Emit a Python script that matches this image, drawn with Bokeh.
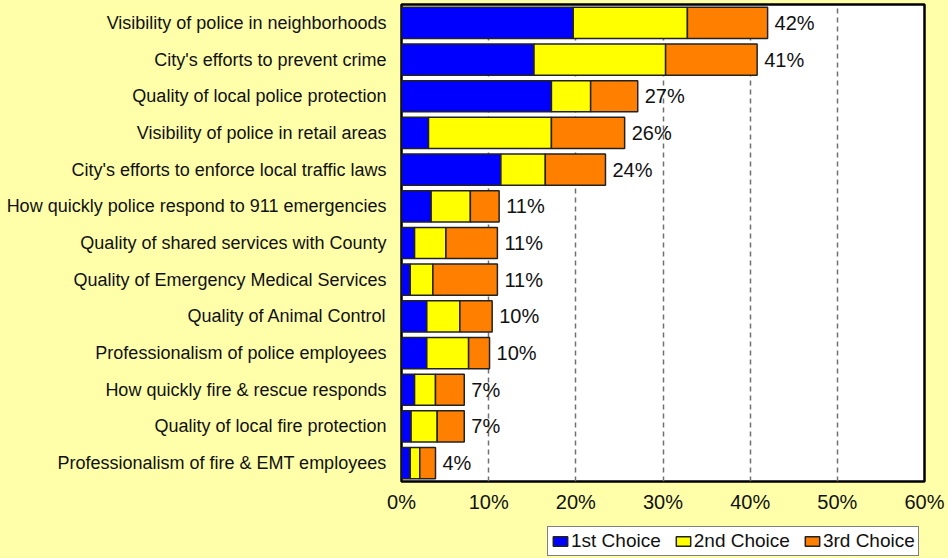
from bokeh.plotting import figure
from bokeh.layouts import column
from bokeh.models import FactorRange, Range1d, ColumnDataSource, Legend, LegendItem, PrintfTickFormatter, FixedTicker
from bokeh.core.properties import value
from bokeh.embed import file_html
from bokeh.resources import INLINE

categories = [
    "Visibility of police in neighborhoods",
    "City's efforts to prevent crime",
    "Quality of local police protection",
    "Visibility of police in retail areas",
    "City's efforts to enforce local traffic laws",
    "How quickly police respond to 911 emergencies",
    "Quality of shared services with County",
    "Quality of Emergency Medical Services",
    "Quality of Animal Control",
    "Professionalism of police employees",
    "How quickly fire & rescue responds",
    "Quality of local fire protection",
    "Professionalism of fire & EMT employees",
]
first_choice = [19.7, 15.2, 17.2, 3.1, 11.4, 3.4, 1.5, 1.0, 2.9, 2.9, 1.5, 1.1, 1.0]
second_choice = [13.1, 15.1, 4.5, 14.1, 5.1, 4.5, 3.6, 2.6, 3.8, 4.8, 2.4, 3.0, 1.1]
third_choice = [9.2, 10.5, 5.4, 8.4, 6.9, 3.3, 5.9, 7.4, 3.7, 2.4, 3.3, 3.1, 1.8]
total_labels = ["42%", "41%", "27%", "26%", "24%", "11%", "11%", "11%", "10%", "10%", "7%", "7%", "4%"]
series_names = ["1st Choice", "2nd Choice", "3rd Choice"]
x_ticks = [0, 10, 20, 30, 40, 50, 60]

FONT = "Liberation Sans"
BG = "#FFFFAA"
TXT = "#111111"
colors = ["#0000FF", "#FFFF00", "#FF8000"]

totals = [a + b + c for a, b, c in zip(first_choice, second_choice, third_choice)]
src = ColumnDataSource(dict(
    cat=categories, s1=first_choice, s2=second_choice, s3=third_choice,
    total=totals, lab=total_labels,
))

p = figure(width=948, height=520, output_backend="svg", toolbar_location=None,
           y_range=FactorRange(factors=list(reversed(categories)), range_padding=0),
           x_range=Range1d(0, 60))
p.background_fill_color = "white"
p.border_fill_color = BG
p.min_border_left = 401
p.min_border_right = 24
p.min_border_top = 4
p.min_border_bottom = 39
p.outline_line_color = "black"
p.outline_line_width = 2.5

p.hbar_stack(["s1", "s2", "s3"], y="cat", height=0.85, source=src,
             color=colors, line_color="#222222", line_width=1.5)

p.text(x="total", y="cat", text="lab", source=src, x_offset=7,
       text_baseline="middle", text_align="left",
       text_font=value(FONT), text_font_size="20px", text_color=TXT)

p.xaxis.ticker = FixedTicker(ticks=x_ticks)
p.xaxis.formatter = PrintfTickFormatter(format="%d%%")
p.xaxis.major_label_text_font = FONT
p.xaxis.major_label_text_font_size = "20px"
p.xaxis.major_label_text_color = TXT
p.xaxis.axis_line_color = None
p.xaxis.major_tick_line_color = None
p.xaxis.minor_tick_line_color = None
p.xaxis.major_tick_out = 0
p.xaxis.major_tick_in = 0
p.xaxis.major_label_standoff = 9

p.yaxis.major_label_text_font = FONT
p.yaxis.major_label_text_font_size = "18px"
p.yaxis.major_label_text_color = TXT
p.yaxis.axis_line_color = None
p.yaxis.major_tick_line_color = None
p.yaxis.major_tick_out = 0
p.yaxis.major_tick_in = 0
p.yaxis.major_label_standoff = 15

p.ygrid.grid_line_color = None
p.xgrid.ticker = FixedTicker(ticks=[10, 20, 30, 40, 50])
p.xgrid.grid_line_color = "#707070"
p.xgrid.grid_line_width = 1.5
p.xgrid.grid_line_dash = "5 4"

# legend strip below the chart
p2 = figure(width=948, height=38, output_backend="svg", toolbar_location=None,
            x_range=Range1d(0, 1), y_range=Range1d(0, 1))
p2.min_border_left = 401
p2.min_border_right = 24
p2.min_border_top = 0
p2.min_border_bottom = 0
p2.outline_line_color = None
p2.background_fill_color = BG
p2.border_fill_color = BG
p2.axis.visible = False
p2.grid.visible = False
# hidden legend proxies
dummy = [p2.hbar(y=[0.5], left=[0], right=[1], height=0.5, color=c,
                 line_color="#222222", line_width=1.5, visible=False)
         for c in colors]

legend = Legend(items=[LegendItem(label=n, renderers=[r]) for n, r in zip(series_names, dummy)],
                orientation="horizontal", location=(146, 2))
legend.label_text_font = FONT
legend.label_text_font_size = "19px"
legend.label_text_color = TXT
legend.glyph_width = 18
legend.glyph_height = 12
legend.label_standoff = 2
legend.spacing = 13
legend.padding = 3
legend.margin = 0
legend.border_line_color = "black"
legend.border_line_width = 1
legend.background_fill_color = "white"
legend.background_fill_alpha = 1
legend.inactive_fill_alpha = 0
legend.label_height = 20
p2.add_layout(legend, "center")

layout = column(p, p2, spacing=0, styles={"background-color": BG})
open("out.html", "w").write(file_html(layout, INLINE))
